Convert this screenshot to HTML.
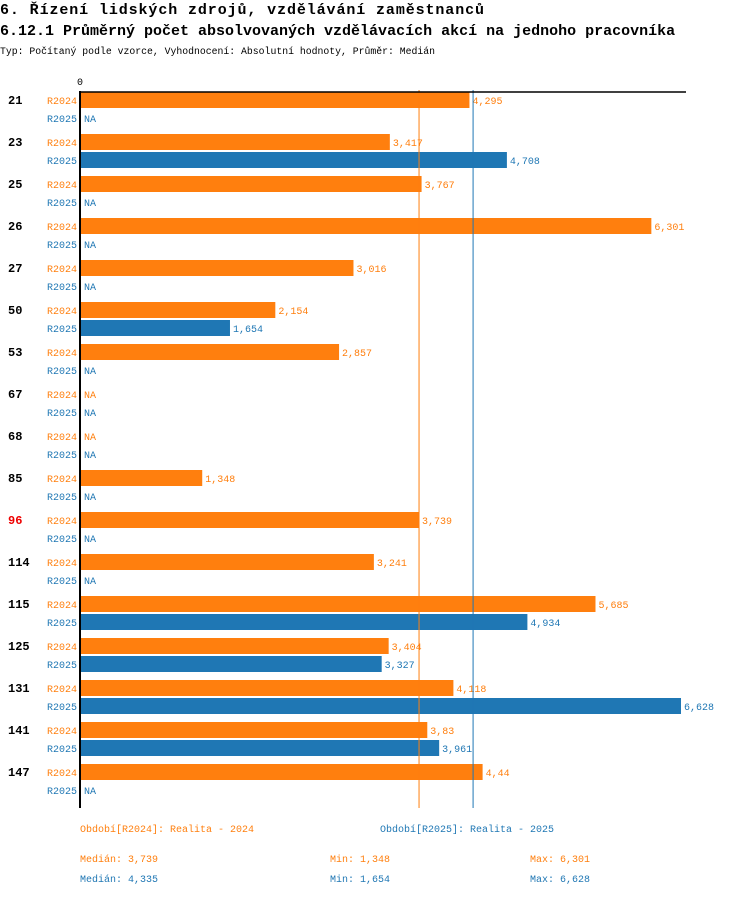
<!DOCTYPE html>
<html><head><meta charset="utf-8"><style>
body{margin:0;background:#fff;width:750px;height:896px;overflow:hidden}
svg text{font-family:"Liberation Mono","DejaVu Sans Mono",monospace}
</style></head><body>
<svg id="c" width="750" height="896">
<text x="0" y="14" font-size="15" font-weight="bold" textLength="484" lengthAdjust="spacing">6. Řízení lidských zdrojů, vzdělávání zaměstnanců</text>
<text x="0" y="35" font-size="15" font-weight="bold">6.12.1 Průměrný počet absolvovaných vzdělávacích akcí na jednoho pracovníka</text>
<text x="0" y="54" font-size="9.8">Typ: Počítaný podle vzorce, Vyhodnocení: Absolutní hodnoty, Průměr: Medián</text>
<text x="80" y="85" font-size="10" text-anchor="middle">0</text>
<g id="bars"></g>
<line x1="80" y1="92" x2="686" y2="92" stroke="#000" stroke-width="1.5"/>
<line x1="80" y1="91" x2="80" y2="808" stroke="#000" stroke-width="2"/>
<g font-size="10">
<text x="80" y="832" fill="#ff7f0e">Období[R2024]: Realita - 2024</text>
<text x="380" y="832" fill="#1f77b4">Období[R2025]: Realita - 2025</text>
<text x="80" y="862" fill="#ff7f0e">Medián: 3,739</text>
<text x="330" y="862" fill="#ff7f0e">Min: 1,348</text>
<text x="530" y="862" fill="#ff7f0e">Max: 6,301</text>
<text x="80" y="882" fill="#1f77b4">Medián: 4,335</text>
<text x="330" y="882" fill="#1f77b4">Min: 1,654</text>
<text x="530" y="882" fill="#1f77b4">Max: 6,628</text>
</g>
</svg>
<script>
const categories=["21","23","25","26","27","50","53","67","68","85","96","114","115","125","131","141","147"];
const r2024=[4.295,3.417,3.767,6.301,3.016,2.154,2.857,null,null,1.348,3.739,3.241,5.685,3.404,4.118,3.83,4.44];
const r2025=[null,4.708,null,null,null,1.654,null,null,null,null,null,null,4.934,3.327,6.628,3.961,null];
const medians=[3.739,4.335];
const highlighted=["96"];
const NS="http://www.w3.org/2000/svg";
const x0=80,xMax=6.628,xW=601;
const xs=v=>x0+v/xMax*xW;
const yTop=92,groupH=42;
const g=document.getElementById('bars');
const colors=["#ff7f0e","#1f77b4"];
function mk(t,a){const e=document.createElementNS(NS,t);for(const k in a)e.setAttribute(k,a[k]);g.appendChild(e);return e;}
const fmt=v=>String(v).replace('.',',');
categories.forEach((c,i)=>{
  const y=yTop+i*groupH;
  const t=mk('text',{x:8,y:y+12,'font-size':12,'font-weight':'bold',fill:highlighted.includes(c)?'#e00':'#000'});
  t.textContent=c;
  
  
  [r2024,r2025].forEach((s,j)=>{
    const yy=y+j*18;
    const l=mk('text',{x:77,y:yy+12,'font-size':10,'text-anchor':'end',fill:colors[j]});
    l.textContent=j?'R2025':'R2024';
    
    
    const v=s[i];
    if(v==null){
      const n=mk('text',{x:84,y:yy+12,'font-size':10,fill:colors[j]});n.textContent='NA';
      
      
    }else{
      const r=mk('rect',{x:x0,y:yy,width:xs(v)-x0,height:16,fill:colors[j]});
      
      
      const n=mk('text',{x:xs(v)+3,y:yy+12,'font-size':10,fill:colors[j]});n.textContent=fmt(v);
      
      
    }
  });
});
medians.forEach((m,j)=>{
  const l=mk('line',{x1:xs(m),x2:xs(m),y1:90,y2:808,stroke:colors[j],'stroke-width':1});
  
  
});
</script>
</body></html>
